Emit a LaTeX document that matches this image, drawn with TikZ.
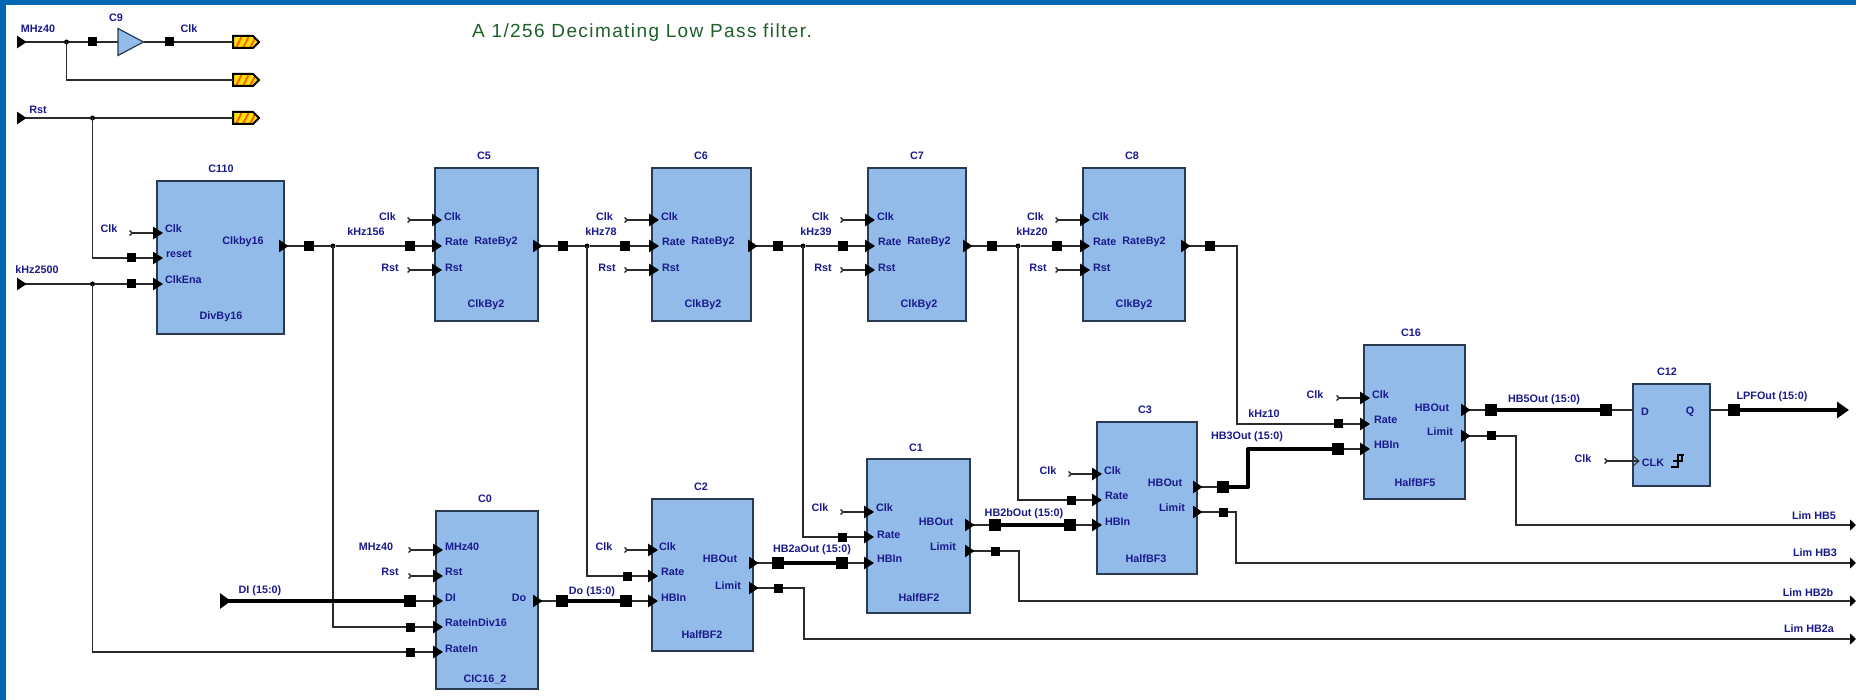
\documentclass[tikz,border=0pt]{standalone}
\usepackage{fontspec}
\setmainfont{Liberation Sans}
\newfontfamily\titlefont[LetterSpace=7.4]{Liberation Sans}
\usetikzlibrary{arrows.meta,shapes.geometric}
\definecolor{frameblue}{HTML}{0068B0}
\definecolor{blockfill}{HTML}{93BBE9}
\definecolor{blockline}{HTML}{2A3A50}
\definecolor{wirecol}{HTML}{2B2B2B}
\definecolor{labcol}{HTML}{1A1A8C}
\definecolor{titlecol}{HTML}{1F5F2A}
\newcounter{labc}
\tikzset{
  blockbox/.style={draw=blockline,fill=blockfill,line width=1.3pt,rectangle,inner sep=0,outer sep=0,anchor=north west},
  wire/.style={draw=wirecol,line width=1.3pt},
  bus/.style={draw=black,line width=4pt},
  pinin/.style={-{Triangle[length=10pt,width=12.5pt,color=black]}},
  pinout/.style={{Triangle[reversed,length=9.5pt,width=12.5pt,color=black]}-},
  stub/.style={{Straight Barb[reversed,length=2.5pt,width=5pt]}-{Triangle[length=10pt,width=12.5pt,color=black]}},
  limtip/.style={-{Triangle[length=6pt,width=11pt,color=black]}},
  sqs/.style={fill=black,rectangle,inner sep=0,outer sep=0,minimum size=9pt},
  sqm/.style={fill=black,rectangle,inner sep=0,outer sep=0,minimum size=10pt},
  sqb/.style={fill=black,rectangle,inner sep=0,outer sep=0,minimum size=12pt},
  jdot/.style={fill=black,circle,inner sep=0,outer sep=0,minimum size=5pt},
  lab/.style={text=labcol,font=\bfseries\fontsize{10.8}{11}\selectfont,inner sep=0,outer sep=0},
}
\newcommand{\lbc}[3]{\stepcounter{labc}\node[lab] (lab\thelabc) at (#1,#2) {#3};}
\newcommand{\lbl}[3]{\stepcounter{labc}\node[lab,anchor=west] (lab\thelabc) at (#1,#2) {#3};}
\newcommand{\flagat}[1]{%
  \begin{scope}[shift={(#1)}]
    \begin{scope}
      \clip (0,-6) -- (20,-6) -- (26,0) -- (20,6) -- (0,6) -- cycle;
      \fill[yellow!85!orange] (0,-7) rectangle (27,7);
      \foreach \k in {3,10,17} \draw[orange!75!red,line width=2pt] (\k,6) -- (\k+6,-6);
    \end{scope}
    \draw[black,line width=2pt,line join=miter] (0,-6) -- (20,-6) -- (26,0) -- (20,6) -- (0,6) -- cycle;
  \end{scope}}
\begin{document}
\begin{tikzpicture}[x=1pt,y=-1pt]
\useasboundingbox (0,0) rectangle (1856,700);
\fill[frameblue] (0,0) rectangle (1856,700);
\fill[white] (6,5) rectangle (1856,700);

% ---- blocks
\node[blockbox,minimum width=127pt,minimum height=153pt] (C110) at (157,181) {};
\node[blockbox,minimum width=103pt,minimum height=153pt] (C5) at (435,168) {};
\node[blockbox,minimum width=99pt,minimum height=153pt] (C6) at (652,168) {};
\node[blockbox,minimum width=98pt,minimum height=153pt] (C7) at (868,168) {};
\node[blockbox,minimum width=102pt,minimum height=153pt] (C8) at (1083,168) {};
\node[blockbox,minimum width=102pt,minimum height=178pt] (C0) at (436,511) {};
\node[blockbox,minimum width=101pt,minimum height=152pt] (C2) at (652,499) {};
\node[blockbox,minimum width=103pt,minimum height=154pt] (C1) at (867,459) {};
\node[blockbox,minimum width=100pt,minimum height=152pt] (C3) at (1097,422) {};
\node[blockbox,minimum width=101pt,minimum height=154pt] (C16) at (1364,345) {};
\node[blockbox,minimum width=77pt,minimum height=102pt] (C12) at (1633,384) {};
\node[draw=blockline,fill=blockfill,line width=1.2pt,isosceles triangle,isosceles triangle stretches,inner sep=0,outer sep=0,minimum width=27pt,minimum height=25.5pt,anchor=lower side] (C9buf) at (118,42) {};

% ---- free ends and pins
\foreach \n/\x/\y in {
  inMHz/17/42, inRst/17/118, inK/17/284, inDI/220/601,
  fa/233/42, fb/233/80, fc/233/118,
  pClkA/163/233, pResetA/163/258, pEnaA/163/284, oA/279/246,
  sClkA/129/233,
  pClk5/442/220, pRate5/442/246, pRst5/442/270, o5/533/246, sClk5/407/220, sRst5/407/270,
  pClk6/659/220, pRate6/659/246, pRst6/659/270, o6/748/246, sClk6/624/220, sRst6/624/270,
  pClk7/875/220, pRate7/875/246, pRst7/875/270, o7/963/246, sClk7/840/220, sRst7/840/270,
  pClk8/1090/220, pRate8/1090/246, pRst8/1090/270, o8/1181/246, sClk8/1055/220, sRst8/1055/270,
  pMH0/443/550, pRst0/443/576, pDI0/443/601, pRD0/443/627, pRI0/443/652, o0/533/601, sMH0/408/550, sRst0/408/576,
  pClk2/658/550, pRate2/658/576, pHB2/658/601, oH2/749/563, oL2/749/588, sClk2/624/550,
  pClk1/874/512, pRate1/874/537, pHB1/874/563, oH1/965/525, oL1/965/551, sClk1/840/512,
  pClk3/1102/474, pRate3/1102/500, pHB3/1102/525, oH3/1193/487, oL3/1193/512, sClk3/1068/474,
  pClk16/1370/398, pRate16/1370/424, pHB16/1370/449, oH16/1461/410, oL16/1461/436, sClk16/1336/398,
  pD12/1633/410, oQ12/1709/410, pCk12/1639/461, sCk12/1604/461,
  endQ/1849/410, eL5/1856/525, eL3/1856/563, eL2b/1856/601, eL2a/1856/639}
  {\coordinate (\n) at (\x,\y);}

% ---- squares and junctions
\foreach \n/\x/\y in {sBufa/92.5/42, sBufb/169/42}
  {\node[sqs] (\n) at (\x,\y) {};}
\foreach \n/\x/\y in {sReset/131/258, sEna/131/284, sRD0/410/627, sRI0/410/652, sR2/627/576, sR1/842/537, sR3/1071/500, sR16/1338/424,
  sL2/778/588, sL1/995/551, sL3/1223/512, sL16/1491/436}
  {\node[sqs] (\n) at (\x,\y) {};}
\foreach \n/\x/\y in {sOA/309/246, sI5/410/246, sO5/563/246, sI6/625/246, sO6/778/246, sI7/843/246, sO7/992/246, sI8/1057/246, sO8/1210/246}
  {\node[sqm] (\n) at (\x,\y) {};}
\foreach \n/\x/\y in {sDI/410/601, sDoA/562/601, sDoB/626/601, sH2A/778/563, sH2B/842/563, sH1A/995/525, sH1B/1070/525, sH3A/1223/487, sH3B/1338/449, sH5A/1491/410, sH5B/1606/410, sQ/1734/410}
  {\node[sqb] (\n) at (\x,\y) {};}
\foreach \n/\x/\y in {jMH/66.5/42, jRst/92.5/118, jK/92.5/284, jA/333/246, j5/587/246, j6/803/246, j7/1018/246}
  {\node[jdot] (\n) at (\x,\y) {};}

% ---- flags
\flagat{fa}\flagat{fb}\flagat{fc}

% ---- top-left nets
\draw[wire,pinout] (inMHz) -- (jMH);
\draw[wire] (jMH) -- (sBufa);
\draw[wire] (sBufa) -- (C9buf.lower side);
\draw[wire] (C9buf.apex) -- (sBufb);
\draw[wire] (sBufb) -- (fa);
\draw[wire] (jMH.center) |- (fb);
\draw[wire,pinout] (inRst) -- (jRst);
\draw[wire] (jRst) -- (fc);
\draw[wire] (jRst.center) |- (sReset);
\draw[wire,pinin] (sReset) -- (pResetA);
\draw[wire,pinout] (inK) -- (jK);
\draw[wire] (jK) -- (sEna);
\draw[wire,pinin] (sEna) -- (pEnaA);
\draw[wire] (jK.center) |- (sRI0);
\draw[wire,pinin] (sRI0) -- (pRI0);
\draw[wire,stub] (sClkA) -- (pClkA);

% ---- clock-divider chain
\draw[wire,pinout] (oA) -- (sOA);
\draw[wire] (sOA) -- (jA);
\draw[wire] (jA) -- (sI5);
\draw[wire,pinin] (sI5) -- (pRate5);
\draw[wire,pinout] (o5) -- (sO5);
\draw[wire] (sO5) -- (j5);
\draw[wire] (j5) -- (sI6);
\draw[wire,pinin] (sI6) -- (pRate6);
\draw[wire,pinout] (o6) -- (sO6);
\draw[wire] (sO6) -- (j6);
\draw[wire] (j6) -- (sI7);
\draw[wire,pinin] (sI7) -- (pRate7);
\draw[wire,pinout] (o7) -- (sO7);
\draw[wire] (sO7) -- (j7);
\draw[wire] (j7) -- (sI8);
\draw[wire,pinin] (sI8) -- (pRate8);
\draw[wire,pinout] (o8) -- (sO8);
\foreach \k in {5,6,7,8} {
  \draw[wire,stub] (sClk\k) -- (pClk\k);
  \draw[wire,stub] (sRst\k) -- (pRst\k);
}
\draw[wire] (jA.center) |- (sRD0);
\draw[wire,pinin] (sRD0) -- (pRD0);
\draw[wire] (j5.center) |- (sR2);
\draw[wire,pinin] (sR2) -- (pRate2);
\draw[wire] (j6.center) |- (sR1);
\draw[wire,pinin] (sR1) -- (pRate1);
\draw[wire] (j7.center) |- (sR3);
\draw[wire,pinin] (sR3) -- (pRate3);
\coordinate (bend8) at (1237,246);
\draw[wire] (sO8) -- (bend8) |- (sR16);
\draw[wire,pinin] (sR16) -- (pRate16);

% ---- data path
\draw[bus,{Triangle[reversed,length=11pt,width=15pt]}-] (inDI) -- (sDI);
\draw[wire,pinin] (sDI) -- (pDI0);
\draw[wire,stub] (sMH0) -- (pMH0);
\draw[wire,stub] (sRst0) -- (pRst0);
\draw[wire,pinout] (o0) -- (sDoA);
\draw[bus] (sDoA) -- (sDoB);
\draw[wire,pinin] (sDoB) -- (pHB2);
\draw[wire,stub] (sClk2) -- (pClk2);
\draw[wire,pinout] (oH2) -- (sH2A);
\draw[bus] (sH2A) -- (sH2B);
\draw[wire,pinin] (sH2B) -- (pHB1);
\draw[wire,stub] (sClk1) -- (pClk1);
\draw[wire,pinout] (oH1) -- (sH1A);
\draw[bus] (sH1A) -- (sH1B);
\draw[wire,pinin] (sH1B) -- (pHB3);
\draw[wire,stub] (sClk3) -- (pClk3);
\draw[wire,pinout] (oH3) -- (sH3A);
\coordinate (busA) at (1248,487);
\coordinate (busB) at (1248,449);
\draw[bus,line join=round] (sH3A) -- (busA) -- (busB) -- (sH3B);
\draw[wire,pinin] (sH3B) -- (pHB16);
\draw[wire,stub] (sClk16) -- (pClk16);
\draw[wire,pinout] (oH16) -- (sH5A);
\draw[bus] (sH5A) -- (sH5B);
\draw[wire] (sH5B) -- (pD12);
\draw[wire] (oQ12) -- (sQ);
\draw[bus,-{Triangle[length=12pt,width=16pt]}] (sQ) -- (endQ);
\draw[wire,{Straight Barb[reversed,length=2.5pt,width=5pt]}-] (sCk12) -- (pCk12);
\draw[wirecol,line width=1pt] (1633,456) -- (pCk12) -- (1633,466);

% ---- limit nets
\coordinate (l2) at (804,588);
\coordinate (l1) at (1019,551);
\coordinate (l3) at (1236,512);
\coordinate (l5) at (1516,436);
\draw[wire,pinout] (oL2) -- (sL2);
\draw[wire,limtip] (sL2) -- (l2) |- (eL2a);
\draw[wire,pinout] (oL1) -- (sL1);
\draw[wire,limtip] (sL1) -- (l1) |- (eL2b);
\draw[wire,pinout] (oL3) -- (sL3);
\draw[wire,limtip] (sL3) -- (l3) |- (eL3);
\draw[wire,pinout] (oL16) -- (sL16);
\draw[wire,limtip] (sL16) -- (l5) |- (eL5);

% ---- schmitt glyph of C12
\draw[black,line width=1.3pt] (1671,467) -- (1678,467) -- (1678,455) -- (1684,455);
\draw[black,line width=1.3pt] (1673,461) -- (1682,461) -- (1682,455);

% ---- title
\node[text=titlecol,font=\titlefont\fontsize{19}{20}\selectfont,anchor=west,inner sep=0] (title) at (472,33) {A 1/256 Decimating Low Pass filter.};

% ---- labels
\lbc{38}{29}{MHz40}\lbc{116}{18}{C9}\lbc{189}{29}{Clk}\lbc{38}{110}{Rst}\lbc{37}{270}{kHz2500}
\lbc{221}{169}{C110}\lbc{109}{229}{Clk}\lbl{165}{229}{Clk}\lbl{166}{254}{reset}\lbl{165}{280}{ClkEna}
\lbc{243}{242}{Clkby16}\lbc{221}{317}{DivBy16}
\lbc{366}{232}{kHz156}\lbc{601}{232}{kHz78}\lbc{816}{232}{kHz39}\lbc{1032}{232}{kHz20}
\foreach \n/\x in {C5/435,C6/652,C7/868,C8/1083}{
  \pgfmathsetmacro{\ax}{\x+49}\lbc{\ax}{156}{\n}
  \pgfmathsetmacro{\ax}{\x-47.5}\lbc{\ax}{217}{Clk}
  \pgfmathsetmacro{\ax}{\x-45}\lbc{\ax}{268}{Rst}
  \pgfmathsetmacro{\ax}{\x+9}\lbl{\ax}{217}{Clk}
  \pgfmathsetmacro{\ax}{\x+10}\lbl{\ax}{242}{Rate}
  \pgfmathsetmacro{\ax}{\x+10}\lbl{\ax}{268}{Rst}
  \pgfmathsetmacro{\ax}{\x+61}\lbc{\ax}{242}{RateBy2}
  \pgfmathsetmacro{\ax}{\x+51}\lbc{\ax}{305}{ClkBy2}
}
\lbc{485}{499}{C0}\lbc{376}{547}{MHz40}\lbc{390}{572}{Rst}\lbl{445}{547}{MHz40}\lbl{445}{572}{Rst}
\lbl{445}{598}{DI}\lbl{445}{623}{RateInDiv16}\lbl{445}{649}{RateIn}\lbc{519}{598}{Do}\lbc{485}{679}{CIC16\_2}
\lbc{260}{591}{DI (15:0)}\lbc{592}{592}{Do (15:0)}
\lbc{701}{487}{C2}\lbc{604}{547}{Clk}\lbl{659}{547}{Clk}\lbl{661}{572}{Rate}\lbl{661}{598}{HBIn}
\lbc{720}{559}{HBOut}\lbc{728}{586}{Limit}\lbc{702}{635}{HalfBF2}\lbc{812}{550}{HB2aOut (15:0)}
\lbc{916}{448}{C1}\lbc{820}{508}{Clk}\lbl{876}{508}{Clk}\lbl{877}{535}{Rate}\lbl{877}{559}{HBIn}
\lbc{936}{522}{HBOut}\lbc{943}{547}{Limit}\lbc{919}{598}{HalfBF2}\lbc{1024}{514}{HB2bOut (15:0)}
\lbc{1145}{410}{C3}\lbc{1048}{471}{Clk}\lbl{1104}{471}{Clk}\lbl{1105}{496}{Rate}\lbl{1105}{522}{HBIn}
\lbc{1165}{483}{HBOut}\lbc{1172}{508}{Limit}\lbc{1146}{559}{HalfBF3}\lbc{1247}{437}{HB3Out (15:0)}
\lbc{1264}{414}{kHz10}
\lbc{1411}{333}{C16}\lbc{1315}{395}{Clk}\lbl{1372}{395}{Clk}\lbl{1374}{420}{Rate}\lbl{1374}{445}{HBIn}
\lbc{1432}{408}{HBOut}\lbc{1440}{432}{Limit}\lbc{1415}{483}{HalfBF5}\lbc{1544}{400}{HB5Out (15:0)}
\lbc{1667}{372}{C12}\lbc{1645}{412}{D}\lbc{1690}{412}{Q}\lbc{1583}{459}{Clk}\lbc{1653}{463}{CLK}
\lbc{1772}{397}{LPFOut (15:0)}
\lbc{1814}{516}{Lim HB5}\lbc{1815}{553}{Lim HB3}\lbc{1808}{593}{Lim HB2b}\lbc{1809}{629}{Lim HB2a}
\end{tikzpicture}
\end{document}
